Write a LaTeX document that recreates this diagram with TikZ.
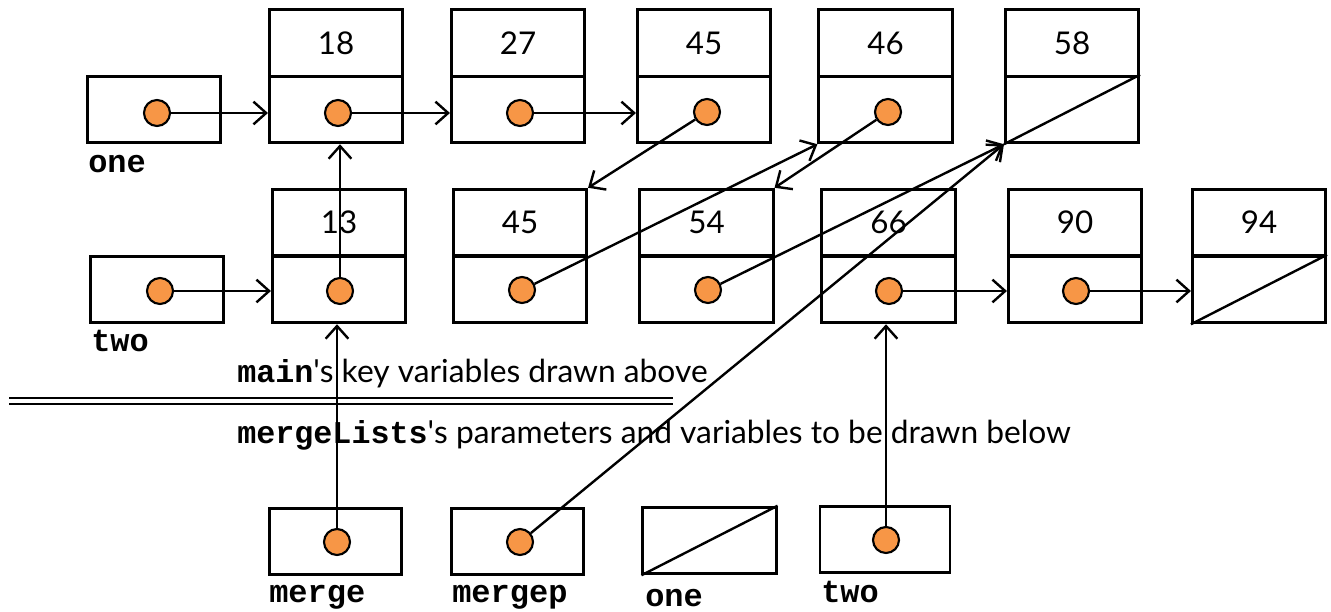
\documentclass[tikz,border=0pt]{standalone}
\usepackage{fontspec}
\setmainfont{Lato}
\newfontfamily\codefont{Liberation Mono}
\usetikzlibrary{arrows.meta}
\definecolor{dotorange}{RGB}{247,150,70}
\newcommand{\code}[1]{{\codefont\bfseries #1}}
\begin{document}
\begin{tikzpicture}[x=0.75pt, y=-0.75pt,
  cell/.style={draw, line width=2.1pt, minimum width=100pt, minimum height=50pt,
    inner sep=0pt, font=\fontsize{23.5}{23.5}\selectfont},
  ptr/.style={circle, draw, line width=1.6pt, fill=dotorange, minimum size=19.5pt, inner sep=0pt},
  link/.style={line width=1.8pt, -{Straight Barb[length=9.5pt, width=17pt, line width=1.8pt]}},
  varname/.style={anchor=base west, inner sep=0pt, font=\codefont\bfseries\fontsize{24}{24}\selectfont},
  caption/.style={anchor=base west, inner sep=0pt, font=\fontsize{23.8}{23.8}\selectfont}]
\useasboundingbox (0,0) rectangle (1331,611);

% ---- list "one" of main ----
\node[cell] (one) at (154,109.5) {};
\node[varname] (onelbl) at (88,172) {one};
\foreach \nm/\x/\v in {a18/336/18, a27/518/27, a45/704/45, a46/885.5/46, a58/1072/58}{
  \node[cell] (\nm v) at (\x,43) {\v};
  \node[cell] (\nm p) at (\x,109.5) {};
}
\node[ptr] (pone) at (157,113) {};
\node[ptr] (p18) at (338,113) {};
\node[ptr] (p27) at (520,113) {};
\node[ptr] (p45) at (707,112) {};
\node[ptr] (p46) at (888,112) {};
\draw[line width=1.8pt] (a58p.south west) -- (a58p.north east);

% ---- list "two" of main ----
\node[cell] (two) at (157,289.5) {};
\node[varname] (twolbl) at (91,351) {two};
\foreach \nm/\x/\v in {b13/339/13, b45/520/45, b54/706.5/54, b66/888.5/66, b90/1075/90, b94/1259/94}{
  \node[cell] (\nm v) at (\x,222.5) {\v};
  \node[cell] (\nm p) at (\x,289.5) {};
}
\node[ptr] (ptwo) at (160,291) {};
\node[ptr] (p13) at (340,291) {};
\node[ptr] (pb45) at (522,290) {};
\node[ptr] (p54) at (708,290) {};
\node[ptr] (p66) at (889,291) {};
\node[ptr] (p90) at (1076,291) {};
\draw[line width=1.8pt] (b94p.south west) -- (b94p.north east);

% ---- divider and captions ----
\node[caption] (capmain) at (237,382) {\code{main}\textquotesingle s key variables drawn above};
\draw[line width=1.8pt] (9,398) -- (673,398) (9,404) -- (673,404);
\node[caption] (capmerge) at (237,443) {\code{mergeLists}\textquotesingle s parameters and variables to be drawn below};

% ---- mergeLists variables ----
\node[cell, minimum width=99.5pt] (merge) at (335.5,541.5) {};
\node[cell, minimum width=98.5pt] (mergep) at (517.5,541.5) {};
\node[cell] (mone) at (709.5,540.5) {};
\node[cell, minimum width=97.5pt] (mtwo) at (885,539.5) {};
\draw[line width=1.8pt] (mone.south west) -- (mone.north east);
\node[ptr] (pmerge) at (337,542) {};
\node[ptr] (pmergep) at (520,542) {};
\node[ptr] (pmtwo) at (886,540) {};
\node[varname] (mergelbl) at (269,602) {merge};
\node[varname] (mergeplbl) at (452,602) {mergep};
\node[varname] (monelbl) at (645,606) {one};
\node[varname] (mtwolbl) at (821,602) {two};

% ---- links ----
\draw[link] (pone) -- (pone -| a18p.west);
\draw[link] (p18) -- (p18 -| a27p.west);
\draw[link] (p27) -- (p27 -| a45p.west);
\draw[link] (p45) -- (b45v.north east);
\draw[link] (p46) -- (b54v.north east);
\draw[link] (ptwo) -- (ptwo -| b13p.west);
\draw[link] (p13) -- (p13 |- a18p.south);
\draw[link] (pb45) -- (a46p.south west);
\draw[link] (p54) -- (a58p.south west);
\draw[link] (p66) -- (p66 -| b90p.west);
\draw[link] (p90) -- (p90 -| b94p.west);
\draw[link] (pmerge) -- (pmerge |- b13p.south);
\draw[link] (pmergep) -- (a58p.south west);
\draw[link] (pmtwo) -- (pmtwo |- b66p.south);
\end{tikzpicture}
\end{document}
